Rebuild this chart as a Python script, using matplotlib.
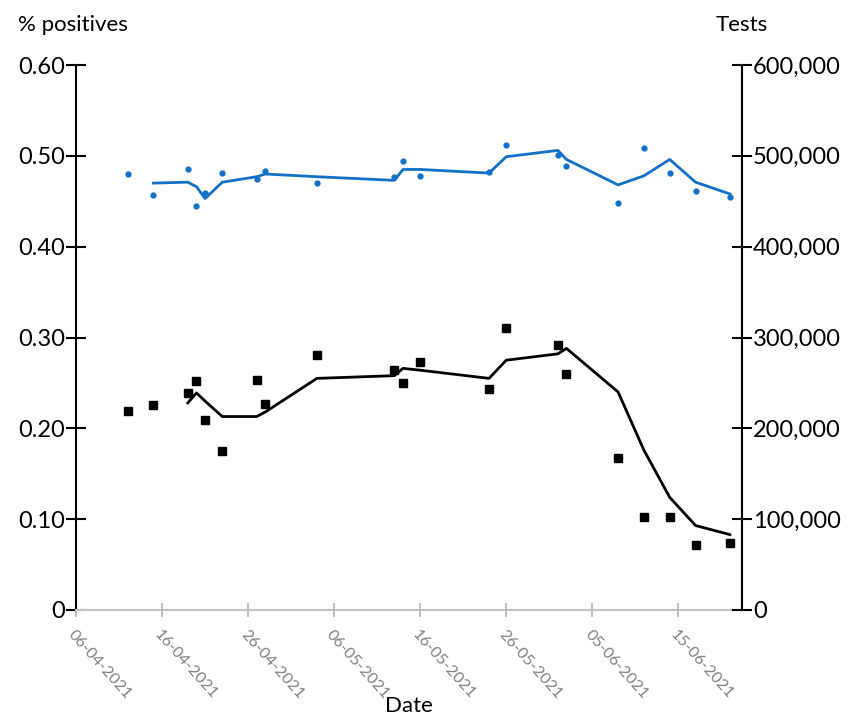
import pandas as pd
import matplotlib.pyplot as plt
import matplotlib.dates as mdates
from matplotlib.ticker import FuncFormatter

plt.rcParams['font.family'] = ['Lato', 'DejaVu Sans']

# Datos de las muestras
fechas = ["2021-04-12", "2021-04-15", "2021-04-19", "2021-04-20", "2021-04-21",
          "2021-04-23", "2021-04-27", "2021-04-28", "2021-05-04", "2021-05-13",
          "2021-05-14", "2021-05-16", "2021-05-24", "2021-05-26", "2021-06-01",
          "2021-06-02", "2021-06-08", "2021-06-11", "2021-06-14", "2021-06-17",
          "2021-06-21"]
positivos = [0.480, 0.457, 0.485, 0.445, 0.459, 0.481, 0.474, 0.483, 0.470, 0.477,
             0.494, 0.478, 0.482, 0.512, 0.501, 0.489, 0.448, 0.509, 0.481, 0.461,
             0.455]
tests = [219000, 226000, 239000, 252000, 209000, 175000, 253000, 227000, 281000,
         264000, 250000, 273000, 243000, 311000, 292000, 260000, 167000, 102000,
         102000, 72000, 74000]

# Medias moviles
positivos_media = [None, 0.470, 0.471, 0.466, 0.453, 0.471, 0.477, 0.480, 0.477,
                   0.473, 0.485, 0.485, 0.481, 0.499, 0.506, 0.496, 0.468, 0.478,
                   0.496, 0.471, 0.458]
tests_media = [None, None, 228000, 239000, 230000, 213000, 213000, 218000, 255000,
               258000, 266000, 264000, 255000, 275000, 282000, 288000, 240000,
               176000, 124000, 93000, 83000]

df = pd.DataFrame({"fecha": pd.to_datetime(fechas), "pos": positivos, "tests": tests,
                   "pos_m": positivos_media, "tests_m": tests_media})

azul = '#1270c6'

fig = plt.figure(figsize=(8.53, 7.2), dpi=100)
ax = fig.add_axes([76 / 853, 110 / 720, 666 / 853, 545 / 720])
ax2 = ax.twinx()

ax.plot(df['fecha'], df['pos'], 'o', color=azul, markersize=3.5)
ax.plot(df['fecha'], df['pos_m'], '-', color=azul, linewidth=2)
ax2.plot(df['fecha'], df['tests'], 's', color='black', markersize=6)
ax2.plot(df['fecha'], df['tests_m'], '-', color='black', linewidth=2)

inicio = pd.Timestamp("2021-04-06")
ax.set_xlim(inicio, inicio + pd.Timedelta(days=77.4))
ax.set_ylim(0, 0.6)
ax2.set_ylim(0, 600000)

ax.set_yticks([0, 0.1, 0.2, 0.3, 0.4, 0.5, 0.6])
ax.yaxis.set_major_formatter(FuncFormatter(lambda v, p: "0" if v == 0 else f"{v:.2f}"))
ax2.set_yticks(range(0, 600001, 100000))
ax2.yaxis.set_major_formatter(FuncFormatter(lambda v, p: "0" if v == 0 else f"{int(v):,}"))

ticks_x = pd.date_range(inicio, periods=8, freq="10D")
ax.set_xticks(ticks_x)
ax.xaxis.set_major_formatter(mdates.DateFormatter("%d-%m-%Y"))

for a in (ax, ax2):
    a.spines['top'].set_visible(False)
ax.spines['right'].set_visible(False)
ax2.spines['left'].set_visible(False)
ax2.spines['bottom'].set_visible(False)
ax.spines['bottom'].set_color('#c0c0c0')
ax.spines['bottom'].set_linewidth(1.5)
ax.spines['left'].set_linewidth(1.5)
ax2.spines['right'].set_linewidth(1.5)

ax.tick_params(axis='y', direction='inout', length=14, width=1.5, labelsize=17, pad=1)
ax2.tick_params(axis='y', direction='inout', length=14, width=1.5, labelsize=17, pad=1)
ax.tick_params(axis='x', direction='inout', length=10, width=1.5, color='#c0c0c0',
               labelsize=11.5, labelcolor='#7f7f7f', pad=8)
for lbl in ax.get_xticklabels():
    lbl.set_rotation(-48)
    lbl.set_ha('left')
    lbl.set_va('top')
    lbl.set_rotation_mode('anchor')

ax.set_xlabel("Date", fontsize=16, labelpad=-4)
fig.text(18 / 853, 1 - 25 / 720, "% positives", fontsize=16, ha='left', va='center')
fig.text(742 / 853, 1 - 25 / 720, "Tests", fontsize=16, ha='center', va='center')

fig.savefig("out.png", dpi=100)
